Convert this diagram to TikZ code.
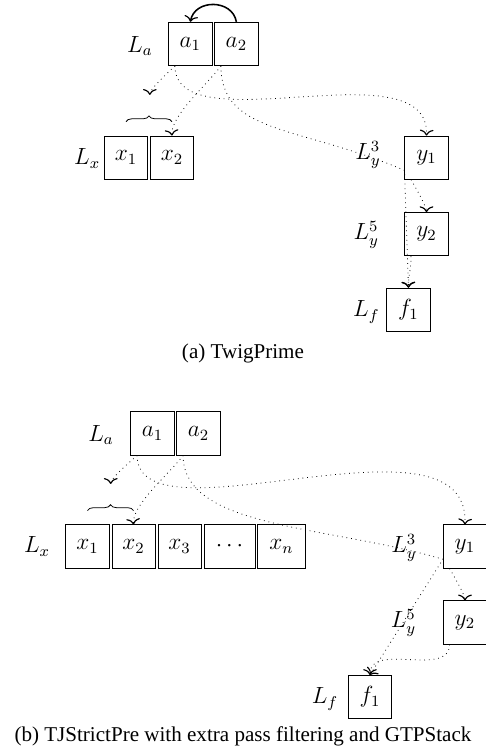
\documentclass[tikz,border=0pt]{standalone}
\usepackage[no-math]{fontspec}
\newfontfamily\capfont{Liberation Serif}
\usetikzlibrary{positioning,decorations.pathreplacing,arrows.meta}

\tikzset{
  cell/.style={draw, minimum size=0.78cm, inner sep=0pt, font=\large},
  lab/.style={font=\large, inner sep=0pt},
  tip/.style={-{To[width=7pt, length=3pt, line width=0.6pt]}},
  link/.style={tip, dotted},
  captext/.style={font=\capfont\fontsize{10.8}{13}\selectfont},
}

\begin{document}
\begin{tikzpicture}
\useasboundingbox (0,0) rectangle (8.757,-13.622);

% (a) TwigPrime
        \node[lab] (la) at (2.52,-0.83) {$L_a$};
        \node[cell] (a1) at (3.43,-0.79) {$a_1$};
        \node[cell, right=1pt of a1] (a2) {$a_2$};

        \node[lab] (lx) at (1.57,-2.86) {$L_x$};
        \node[cell] (x1) at (2.27,-2.84) {$x_1$};
        \node[cell, right=1pt of x1] (x2) {$x_2$};
        \coordinate (xs) at (2.70,-1.71);

        \node[lab] (ly3) at (6.63,-2.79) {$L_y^3$};
        \node[cell] (y1) at (7.685,-2.84) {$y_1$};
        \node[lab] (ly5) at (6.60,-4.23) {$L_y^5$};
        \node[cell] (y2) at (7.685,-4.22) {$y_2$};
        \node[lab] (lf) at (6.60,-5.62) {$L_f$};
        \node[cell] (f1) at (7.36,-5.58) {$f_1$};

        \draw[tip, thick] (a2.north) to[bend right=80, looseness=1.3] (a1.north);
        \draw[decorate, decoration={brace, amplitude=3pt}]
            ([yshift=0.25cm]x1.north) -- ([yshift=0.25cm]x2.north);

        \path [link] (a1.-125) edge[out=-135, in=90, looseness=0.4] (xs);
        \path [link] (a2.-125) edge[out=-125, in=95, looseness=0.6] (x2.north);
        \draw [link] (a1.-125) .. controls +(0,-1.44) and +(0.05,1.62) .. (y1.north);
        \draw [link] (a2.-125) .. controls +(0,-1.24) and +(-1.89,0.81) .. (y1.-150) -- (f1.north);
        \path [link] (y1.-125) edge[out=-60, in=90, looseness=0.4] (y2.north);
        \path [link] (y2.-125) edge[out=-90, in=90] (f1.north);

        \node[captext] (capa) at (4.378,-6.37) {(a) TwigPrime};

% (b) TJStrictPre
        \node[lab] (lb) at (1.82,-7.84) {$L_a$};
        \node[cell] (b1) at (2.748,-7.807) {$a_1$};
        \node[cell, right=1pt of b1] (b2) {$a_2$};

        \node[lab] (lxb) at (0.667,-9.847) {$L_x$};
        \node[cell] (u1) at (1.577,-9.847) {$x_1$};
        \node[cell, right=1pt of u1] (u2) {$x_2$};
        \node[cell, right=1pt of u2] (u3) {$x_3$};
        \node[cell, right=1pt of u3, minimum width=0.92cm] (ud) {$\cdots$};
        \node[cell, right=1pt of ud, minimum width=0.85cm] (un) {$x_n$};
        \coordinate (us) at (1.995,-8.72);

        \node[lab] (ly3b) at (7.28,-9.874) {$L_y^3$};
        \node[cell] (v1) at (8.378,-9.847) {$y_1$};
        \node[lab] (ly5b) at (7.27,-11.225) {$L_y^5$};
        \node[cell] (v2) at (8.378,-11.216) {$y_2$};
        \node[lab] (lfb) at (5.856,-12.595) {$L_f$};
        \node[cell] (g1) at (6.667,-12.559) {$f_1$};

        \draw[decorate, decoration={brace, amplitude=3pt}]
            ([yshift=0.25cm]u1.north) -- ([yshift=0.25cm]u2.north);

        \path [link] (b1.-125) edge[out=-135, in=90, looseness=0.4] (us);
        \path [link] (b2.-125) edge[out=-125, in=95, looseness=0.6] (u2.north);
        \draw [link] (b1.-125) .. controls +(0,-1.66) and +(0.09,2.22) .. (v1.north);
        \draw [link] (b2.-125) .. controls +(0,-1.33) and +(-2.05,0.61) .. (v1.-150) -- (g1.north);
        \path [link] (v1.-125) edge[out=-60, in=90, looseness=0.4] (v2.north);
        \path [link] (v2.-125) edge[out=-90, in=90] (g1.north);

        \node[captext] (capb) at (4.378,-13.26) {(b) TJStrictPre with extra pass filtering and GTPStack};
\end{tikzpicture}
\end{document}
